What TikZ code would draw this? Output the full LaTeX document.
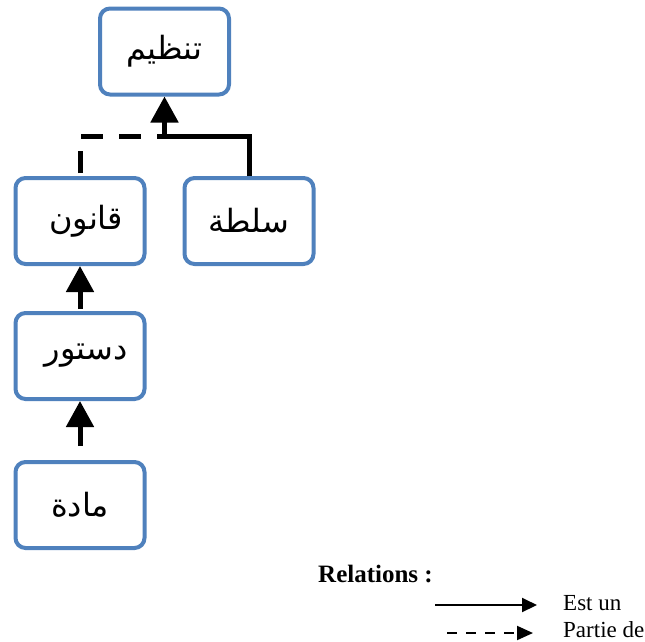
\documentclass[tikz,border=0pt]{standalone}
\usepackage{fontspec}
\setmainfont{Liberation Serif}
\newfontfamily\arabicfont[Script=Arabic]{DejaVu Sans}
\TeXXeTstate=1
\usetikzlibrary{arrows.meta}
\definecolor{boxblue}{HTML}{4F81BD}
\tikzset{
  box/.style={draw=boxblue, line width=4pt, rounded corners=10pt, fill=white,
    minimum width=129pt, minimum height=86pt, inner sep=0pt,
    font=\arabicfont\fontsize{32}{36}\selectfont},
  isa/.style={line width=5pt, line join=miter,
    -{Triangle[length=26pt,width=27pt]}},
  partof/.style={line width=5pt, dash pattern=on 22pt off 16pt},
  legsolid/.style={line width=2pt, -{Triangle[length=15pt,width=14pt]}},
  legdash/.style={line width=2pt, dash pattern=on 10pt off 9pt,
    -{Triangle[length=16pt,width=14pt]}},
  legtext/.style={anchor=base west, inner sep=0pt,
    font=\fontsize{23}{27}\selectfont},
}
\begin{document}
\begin{tikzpicture}[x=1pt,y=-1pt]
  \useasboundingbox (0,0) rectangle (645,641);

  % concept boxes
  \node[box] (tanzim) at (164.5,51.5) {\beginR تنظيم\endR};
  \node[box] (qanun)  at (80,221)    {\hspace*{12pt}\beginR قانون\endR};
  \node[box] (sulta)  at (249,221)   {\beginR سلطة\endR};
  \node[box] (dustur) at (80,356)    {\hspace*{12pt}\beginR دستور\endR};
  \node[box] (madda)  at (80,505)    {\beginR مادة\endR};

  % junction below the top box
  \coordinate (jct) at (164.5,136);

  % relations
  \draw[partof] ([yshift=3pt]qanun.north) |- (jct);
  \draw[isa] (sulta.north) |- (jct) -- (tanzim.south);
  \draw[isa] ([yshift=2pt]dustur.north) -- (qanun.south);
  \draw[isa] ([yshift=14pt]madda.north) -- (dustur.south);

  % legend
  \node[legtext, font=\bfseries\fontsize{25}{29}\selectfont] (legtitle) at (318,582) {Relations :};
  \coordinate (isaA) at (435,605);
  \coordinate (isaB) at (537,605);
  \coordinate (partA) at (447,633);
  \coordinate (partB) at (533,633);
  \draw[legsolid] (isaA) -- (isaB);
  \draw[legdash] (partA) -- (partB);
  \node[legtext] (isalbl) at (563,610) {Est un};
  \node[legtext] (partlbl) at (563,637) {Partie de};
\end{tikzpicture}
\end{document}
